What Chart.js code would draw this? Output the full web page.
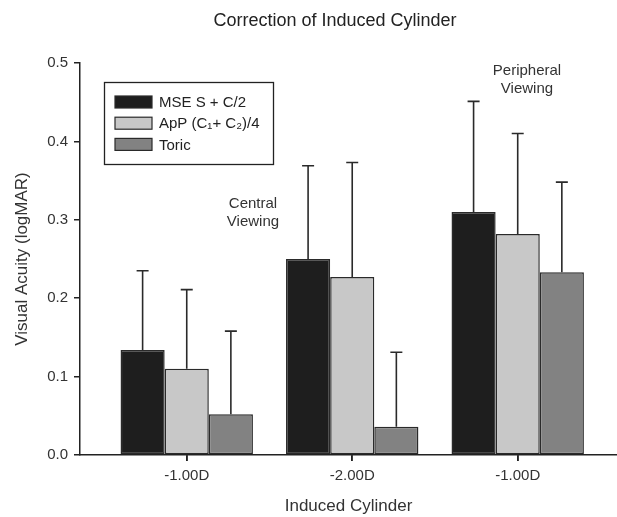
<!DOCTYPE html>
<html>
<head>
<meta charset="utf-8">
<script src="https://cdn.jsdelivr.net/npm/chart.js@4.4.0/dist/chart.umd.min.js"></script>
<style>
html,body{margin:0;padding:0;background:#fff;}
#wrap{width:617px;height:517px;position:relative;}
</style>
</head>
<body>
<div id="wrap"><canvas id="c" width="617" height="517"></canvas></div>
<script>
// ---- data ----
const categories = ["-1.00D", "-2.00D", "-1.00D"];
const seriesNames = ["MSE S + C/2", "ApP (C\u2081+ C\u2082)/4", "Toric"];
const mseValues   = [0.134, 0.250, 0.310];
const mseErrors   = [0.101, 0.119, 0.141];
const appValues   = [0.110, 0.227, 0.282];
const appErrors   = [0.101, 0.146, 0.128];
const toricValues = [0.052, 0.036, 0.233];
const toricErrors = [0.106, 0.095, 0.115];
const yTicks = [0.0, 0.1, 0.2, 0.3, 0.4, 0.5];
const chartTitle = "Correction of Induced Cylinder";
const xTitle = "Induced Cylinder";
const yTitle = "Visual Acuity (logMAR)";
const notes = [
  {lines: ["Central", "Viewing"], cat: 1, value: 0.32},
  {lines: ["Peripheral", "Viewing"], cat: 2, value: 0.49}
];

const FONT = "'Liberation Sans', Arial, sans-serif";
const colors = ["#1e1e1e", "#c8c8c8", "#828282"];
const valuesList = [mseValues, appValues, toricValues];
const errorsList = [mseErrors, appErrors, toricErrors];

const datasets = seriesNames.map((n, s) => ({
  label: n,
  data: valuesList[s].map((v, i) => ({x: i, y: v})),
  errors: errorsList[s],
  backgroundColor: colors[s],
  borderColor: "#2a2a2a",
  borderWidth: 1.5,
  borderSkipped: false,
  categoryPercentage: 0.8,
  barPercentage: 1.0
}));

const errorBars = {
  id: "errorBars",
  afterDatasetsDraw(chart) {
    const ctx = chart.ctx, y = chart.scales.y;
    ctx.save();
    ctx.strokeStyle = "#2a2a2a";
    ctx.lineWidth = 1.6;
    chart.data.datasets.forEach((ds, di) => {
      const meta = chart.getDatasetMeta(di);
      meta.data.forEach((bar, i) => {
        const v = ds.data[i].y, e = ds.errors[i];
        const top = y.getPixelForValue(v + e);
        ctx.beginPath();
        ctx.moveTo(bar.x, bar.y);
        ctx.lineTo(bar.x, top);
        ctx.moveTo(bar.x - 6, top);
        ctx.lineTo(bar.x + 6, top);
        ctx.stroke();
      });
    });
    ctx.restore();
  }
};

const decor = {
  id: "decor",
  afterDraw(chart) {
    const ctx = chart.ctx, xs = chart.scales.x, ys = chart.scales.y;
    ctx.save();
    // x tick marks
    ctx.strokeStyle = "#222";
    ctx.lineWidth = 1.5;
    const base = ys.getPixelForValue(0);
    categories.forEach((c, i) => {
      const px = Math.round(xs.getPixelForValue(i));
      ctx.beginPath();
      ctx.moveTo(px, base);
      ctx.lineTo(px, base + 6);
      ctx.stroke();
    });
    // title
    ctx.fillStyle = "#222";
    ctx.font = "18px " + FONT;
    ctx.textAlign = "center";
    ctx.textBaseline = "middle";
    ctx.fillText(chartTitle, 335, 21);
    // notes
    ctx.font = "15px " + FONT;
    ctx.fillStyle = "#333";
    notes.forEach(n => {
      const cx = n.cat === 1 ? 253 : 527;
      const cy = ys.getPixelForValue(n.value);
      n.lines.forEach((l, k) => ctx.fillText(l, cx, cy + k * 18));
    });
    // legend
    const lx = 104, ly = 82, lw = 169, lh = 82;
    ctx.strokeStyle = "#222";
    ctx.lineWidth = 1.3;
    ctx.strokeRect(lx + 0.5, ly + 0.5, lw, lh);
    ctx.textAlign = "left";
    ctx.font = "15px " + FONT;
    chart.data.datasets.forEach((ds, i) => {
      const cy = 102 + i * 21.2;
      ctx.fillStyle = ds.backgroundColor;
      ctx.fillRect(115, cy - 6, 37, 12);
      ctx.strokeStyle = "#2a2a2a";
      ctx.lineWidth = 1.2;
      ctx.strokeRect(115, cy - 6, 37, 12);
      ctx.fillStyle = "#222";
      ctx.fillText(ds.label, 159, cy + 1);
    });
    ctx.restore();
  }
};

new Chart(document.getElementById("c"), {
  type: "bar",
  data: {datasets},
  plugins: [errorBars, decor],
  options: {
    responsive: false,
    animation: false,
    layout: {padding: {top: 63, right: 0, left: 0, bottom: 0}},
    plugins: {legend: {display: false}, title: {display: false}, tooltip: {enabled: false}},
    scales: {
      x: {
        type: "linear",
        min: -0.645,
        max: 2.6,
        offset: false,
        afterFit(s) { s.height = 62; },
        afterBuildTicks(s) { s.ticks = categories.map((c, i) => ({value: i})); },
        ticks: {
          autoSkip: false,
          callback: (v) => categories[v] !== undefined ? categories[v] : "",
          font: {family: FONT, size: 15},
          color: "#333",
          padding: 6,
          maxRotation: 0
        },
        grid: {offset: false, drawOnChartArea: false, drawTicks: true, tickLength: 6, color: "#222", lineWidth: 1.5},
        border: {display: true, color: "#222", width: 1.5},
        title: {display: true, text: xTitle, font: {family: FONT, size: 17}, color: "#333", padding: {top: 0, bottom: 0}}
      },
      y: {
        min: 0,
        max: 0.5,
        afterFit(s) { s.width = 80; },
        afterBuildTicks(s) { s.ticks = yTicks.map(v => ({value: v})); },
        ticks: {
          callback: (v) => Number(v).toFixed(1),
          font: {family: FONT, size: 15},
          color: "#333",
          padding: 6
        },
        grid: {drawOnChartArea: false, drawTicks: true, tickLength: 6, color: "#222", lineWidth: 1.5},
        border: {display: true, color: "#222", width: 1.5},
        title: {display: true, text: yTitle, font: {family: FONT, size: 17}, color: "#333", padding: {top: 12, bottom: 0}}
      }
    }
  }
});
</script>
</body>
</html>
